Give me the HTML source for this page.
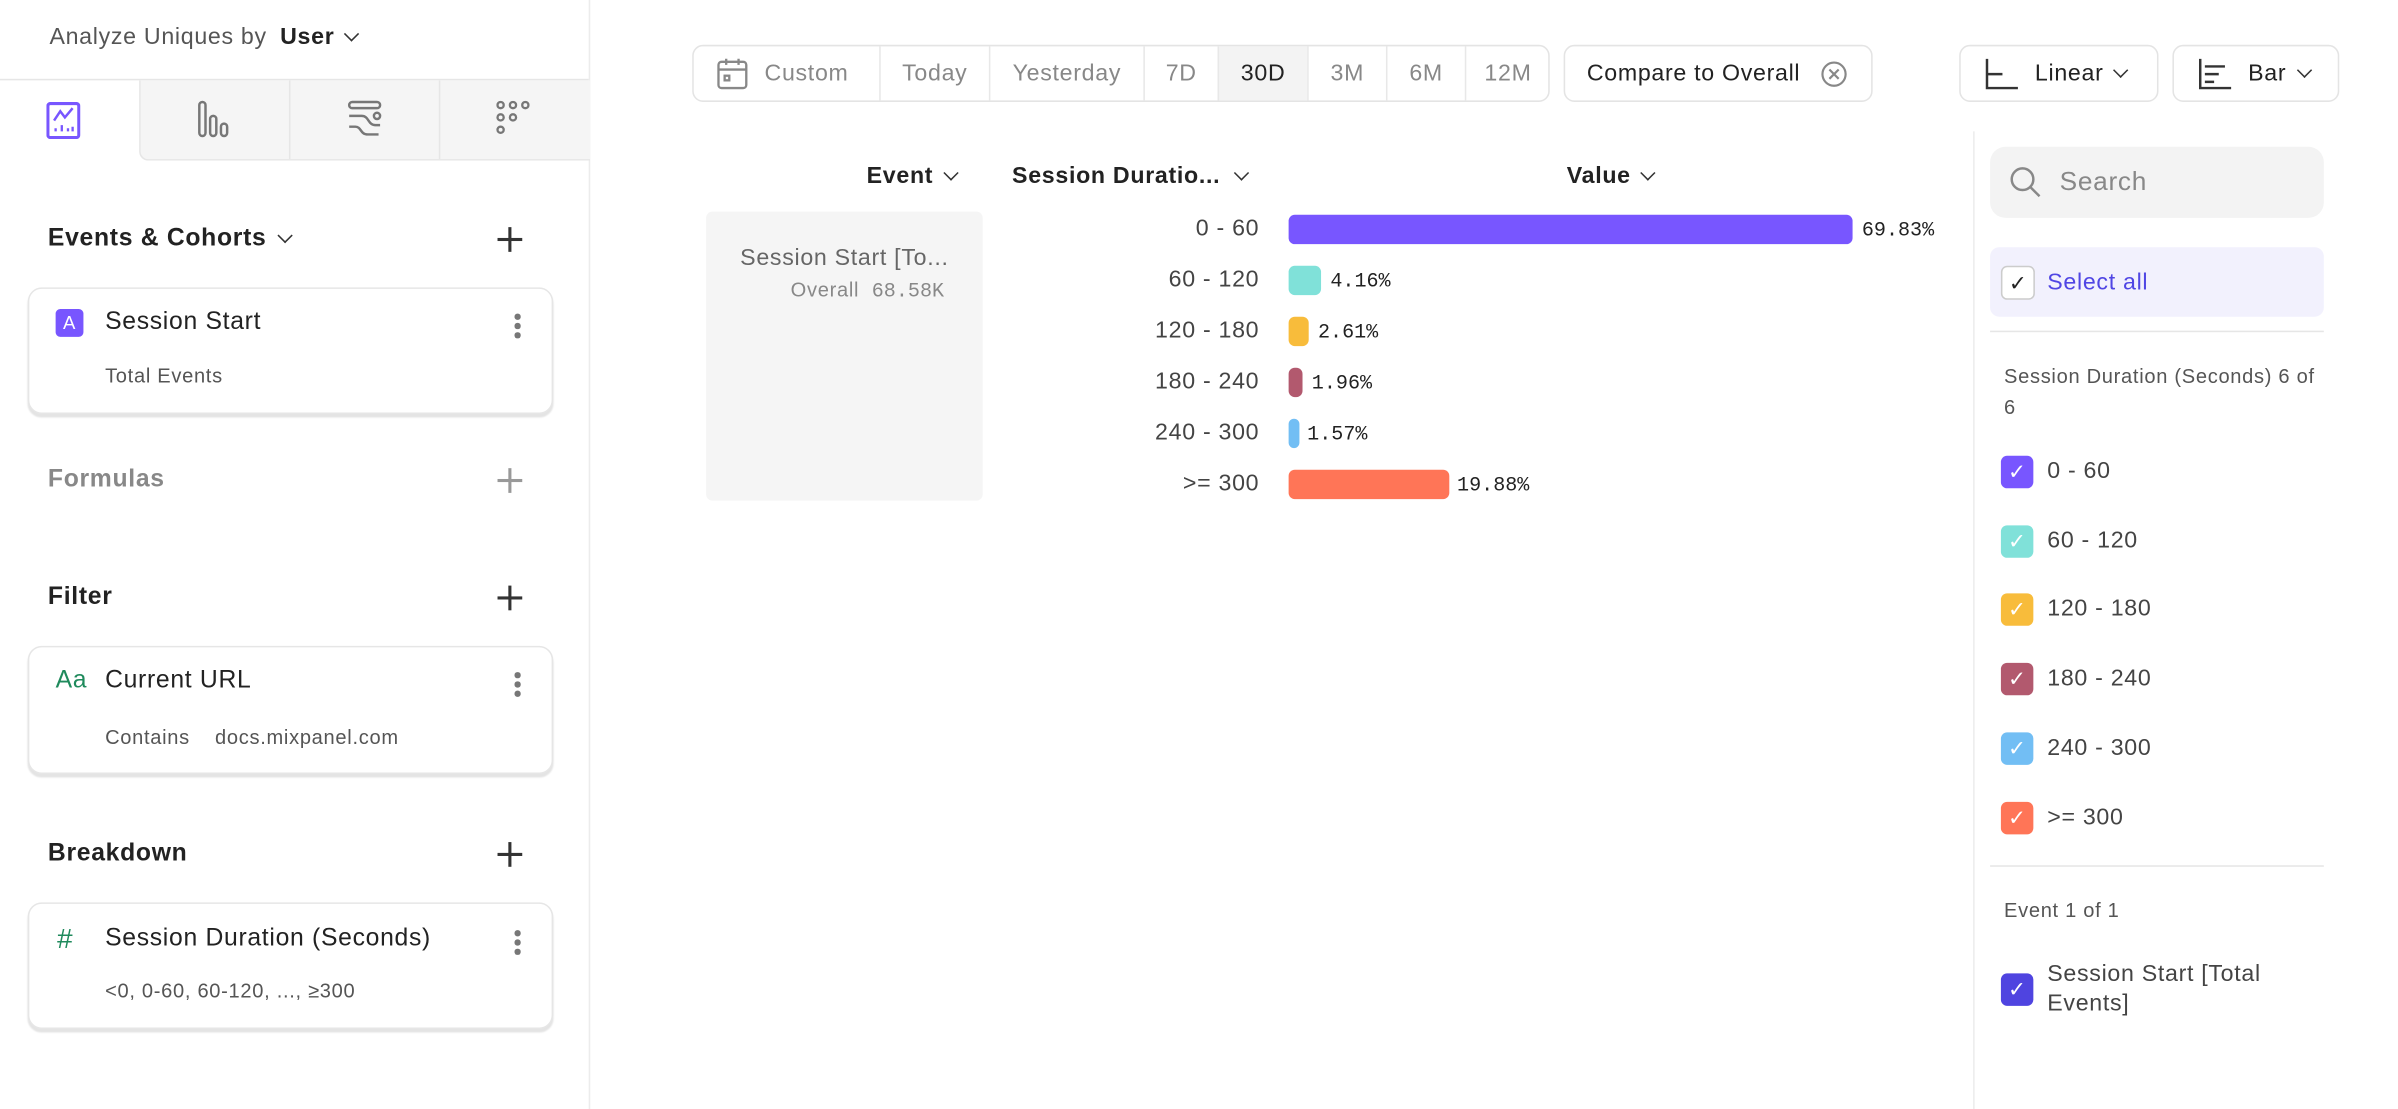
<!DOCTYPE html>
<html><head><meta charset="utf-8"><style>
html,body{margin:0;padding:0;background:#fff;overflow:hidden}
body{width:2398px;height:1108px}
#s{position:absolute;left:0;top:0;width:1552px;height:718px;transform:scale(1.5451);transform-origin:0 0;font-family:"Liberation Sans",sans-serif;color:#222;letter-spacing:0.45px}
.a{position:absolute;white-space:nowrap}
.t{transform:translateY(-50%)}
.card{position:absolute;left:18px;width:338px;border:1px solid #e6e6e6;border-radius:9px;box-shadow:0 2px 1px #e4e4e4;background:#fff}
.plus{position:absolute;left:322px;width:16px;height:16px}
.plus:before{content:"";position:absolute;left:7px;top:0;width:1.6px;height:16px;background:currentColor}
.plus:after{content:"";position:absolute;left:0;top:7px;width:16px;height:1.6px;background:currentColor}
.keb{position:absolute;left:333px;width:4px}
.keb i{display:block;width:3.5px;height:3.5px;border-radius:50%;background:#777;margin-bottom:2.5px}
.seg{position:absolute;top:29px;height:37px;border:1px solid #e4e4e4;border-radius:7px;box-sizing:border-box}
.sg{position:absolute;top:0;height:35px;line-height:35px;text-align:center;font-size:15px;color:#888;border-left:1px solid #e8e8e8;box-sizing:border-box}
.chev{display:inline-block;width:6px;height:6px;border-right:1.7px solid #333;border-bottom:1.7px solid #333;transform:rotate(45deg);margin-left:8px;position:relative;top:-3px}
.lab{position:absolute;right:737px;font-size:15px;color:#444}
.bar{position:absolute;left:834px;height:19px;border-radius:4px}
.pct{position:absolute;font-family:"Liberation Mono",monospace;font-size:13px;color:#222;letter-spacing:0}
.cb{position:absolute;left:1295px;width:21px;height:21px;border-radius:4px;color:#fff;font-size:14px;text-align:center;line-height:21px;letter-spacing:0}
.cl{position:absolute;left:1325px;font-size:15px;color:#444}
</style></head><body><div id="s">
<!-- sidebar -->
<div class="a" style="left:381px;top:0;width:1px;height:718px;background:#ececec"></div>
<div class="a t" style="left:32px;top:24px;font-size:15px;color:#555">Analyze Uniques by <span style="color:#222;font-weight:bold;margin-left:4px">User</span><span class="chev"></span></div>
<div class="a" style="left:0;top:51px;width:381px;height:1px;background:#e6e6e6"></div>
<div class="a" style="left:90px;top:52px;width:291px;height:51px;background:#f5f5f5;border-left:1px solid #e6e6e6;border-bottom:1px solid #e6e6e6;border-bottom-left-radius:6px"></div>
<div class="a" style="left:187px;top:52px;width:1px;height:51px;background:#e6e6e6"></div>
<div class="a" style="left:284px;top:52px;width:1px;height:51px;background:#e6e6e6"></div>
<svg class="a" style="left:30px;top:66px" width="22" height="24" viewBox="0 0 22 24"><rect x="1" y="1" width="20" height="22" rx="1.5" fill="none" stroke="#7856ff" stroke-width="2"/><path d="M5 12 L9 6 L12 10 L17 4" fill="none" stroke="#7856ff" stroke-width="1.6"/><path d="M6 19v-2M10 19v-4M14 19v-2M17 19v-3" stroke="#7856ff" stroke-width="1.5"/></svg>
<svg class="a" style="left:127px;top:65px" width="24" height="24" viewBox="0 0 24 24" fill="none" stroke="#777" stroke-width="1.6"><rect x="2" y="1" width="4" height="22" rx="2"/><rect x="9" y="10" width="4" height="13" rx="2"/><rect x="16" y="15" width="4" height="8" rx="2"/></svg>
<svg class="a" style="left:224px;top:65px" width="24" height="24" viewBox="0 0 24 24" fill="none" stroke="#777" stroke-width="1.6"><rect x="2" y="1" width="20" height="4" rx="2"/><path d="M2 10h8c5 0 4 6 9 6h3M2 17h4c4 0 3 5 8 5h7"/><circle cx="20" cy="10" r="2"/></svg>
<svg class="a" style="left:321px;top:65px" width="24" height="24" viewBox="0 0 24 24" fill="none" stroke="#777" stroke-width="1.5"><circle cx="3" cy="3" r="2"/><circle cx="11" cy="3" r="2"/><circle cx="19" cy="3" r="2"/><circle cx="3" cy="11" r="2"/><circle cx="11" cy="11" r="2"/><circle cx="3" cy="19" r="2"/></svg>

<div class="a t" style="left:31px;top:155px;font-size:16px;font-weight:bold">Events &amp; Cohorts<span class="chev" style="margin-left:9px"></span></div>
<div class="plus" style="top:147px;color:#333"></div>
<div class="card" style="top:186px;height:80px"></div>
<div class="a" style="left:36px;top:200px;width:18px;height:18px;border-radius:3px;background:#7856ff;color:#fff;font-size:12px;text-align:center;line-height:18px">A</div>
<div class="a t" style="left:68px;top:209px;font-size:16px">Session Start</div>
<div class="keb" style="top:203px"><i></i><i></i><i></i></div>
<div class="a t" style="left:68px;top:243px;font-size:13px;color:#555">Total Events</div>

<div class="a t" style="left:31px;top:311px;font-size:16px;font-weight:bold;color:#888">Formulas</div>
<div class="plus" style="top:303px;color:#999"></div>

<div class="a t" style="left:31px;top:387px;font-size:16px;font-weight:bold">Filter</div>
<div class="plus" style="top:379px;color:#333"></div>
<div class="card" style="top:418px;height:81px"></div>
<div class="a t" style="left:36px;top:441px;font-size:16px;color:#1f8a5c">Aa</div>
<div class="a t" style="left:68px;top:441px;font-size:16px">Current URL</div>
<div class="keb" style="top:435px"><i></i><i></i><i></i></div>
<div class="a t" style="left:68px;top:477px;font-size:13px;color:#555">Contains &nbsp;&nbsp; docs.mixpanel.com</div>

<div class="a t" style="left:31px;top:553px;font-size:16px;font-weight:bold">Breakdown</div>
<div class="plus" style="top:545px;color:#333"></div>
<div class="card" style="top:584px;height:80px"></div>
<div class="a t" style="left:37px;top:608px;font-size:18px;color:#1f8a5c">#</div>
<div class="a t" style="left:68px;top:608px;font-size:16px">Session Duration (Seconds)</div>
<div class="keb" style="top:602px"><i></i><i></i><i></i></div>
<div class="a t" style="left:68px;top:641px;font-size:13px;color:#555">&lt;0, 0-60, 60-120, ..., ≥300</div>

<!-- toolbar -->
<div class="seg" style="left:448px;width:555px">
 <div class="sg" style="left:0;width:120px;border-left:none;padding-left:26px">Custom</div>
 <svg class="a" style="left:15px;top:7px" width="20" height="21" viewBox="0 0 20 21" fill="none" stroke="#888" stroke-width="1.5"><rect x="1" y="3" width="18" height="17" rx="2"/><path d="M1 8h18M6 1v4M14 1v4"/><rect x="5" y="12" width="3" height="3"/></svg>
 <div class="sg" style="left:120px;width:71px">Today</div>
 <div class="sg" style="left:191px;width:100px">Yesterday</div>
 <div class="sg" style="left:291px;width:48px">7D</div>
 <div class="sg" style="left:339px;width:58px;background:#f3f3f3;color:#222">30D</div>
 <div class="sg" style="left:397px;width:51px">3M</div>
 <div class="sg" style="left:448px;width:51px">6M</div>
 <div class="sg" style="left:499px;width:55px">12M</div>
</div>
<div class="seg" style="left:1012px;width:200px"><div class="a" style="left:14px;top:0;line-height:35px;font-size:15px">Compare to Overall</div>
<svg class="a" style="left:165px;top:9px" width="18" height="18" viewBox="0 0 18 18" fill="none" stroke="#888" stroke-width="1.4"><circle cx="9" cy="9" r="7.5"/><path d="M6 6l6 6M12 6l-6 6"/></svg></div>
<div class="seg" style="left:1268px;width:129px">
<svg class="a" style="left:16px;top:8px" width="22" height="20" viewBox="0 0 22 20" fill="none" stroke="#333" stroke-width="1.6"><path d="M1 0v19h20M1 10h10"/></svg>
<div class="a" style="left:48px;top:0;line-height:35px;font-size:15px">Linear<span class="chev"></span></div></div>
<div class="seg" style="left:1406px;width:108px">
<svg class="a" style="left:16px;top:8px" width="22" height="20" viewBox="0 0 22 20" fill="none" stroke="#333" stroke-width="1.6"><path d="M1 0v19h20M4 5h13M4 10h9M4 15h6"/></svg>
<div class="a" style="left:48px;top:0;line-height:35px;font-size:15px">Bar<span class="chev"></span></div></div>

<!-- table headers -->
<div class="a t" style="right:933px;top:114px;font-size:15px;font-weight:bold;color:#222">Event<span class="chev"></span></div>
<div class="a t" style="left:655px;top:114px;font-size:15px;font-weight:bold;color:#222">Session Duratio...<span class="chev" style="margin-left:10px"></span></div>
<div class="a t" style="left:1014px;top:114px;font-size:15px;font-weight:bold;color:#222">Value<span class="chev"></span></div>

<div class="a" style="left:457px;top:137px;width:179px;height:187px;background:#f5f5f5;border-radius:4px"></div>
<div class="a t" style="left:457px;width:179px;text-align:center;top:167px;font-size:15px;color:#666">Session Start [To...</div>
<div class="a t" style="right:941px;top:188px;font-size:13px;color:#888">Overall &nbsp;<span style="font-family:'Liberation Mono',monospace;letter-spacing:0">68.58K</span></div>

<div class="lab t" style="top:148px">0 - 60</div>
<div class="lab t" style="top:181px">60 - 120</div>
<div class="lab t" style="top:214px">120 - 180</div>
<div class="lab t" style="top:247px">180 - 240</div>
<div class="lab t" style="top:280px">240 - 300</div>
<div class="lab t" style="top:313px">&gt;= 300</div>

<div class="bar" style="top:139px;width:365px;background:#7856ff"></div>
<div class="pct t" style="left:1205px;top:149px">69.83%</div>
<div class="bar" style="top:172px;width:21px;background:#80e1d9"></div>
<div class="pct t" style="left:861px;top:182px">4.16%</div>
<div class="bar" style="top:205px;width:13px;background:#f8bc3b"></div>
<div class="pct t" style="left:853px;top:215px">2.61%</div>
<div class="bar" style="top:238px;width:9px;background:#b2596e"></div>
<div class="pct t" style="left:849px;top:248px">1.96%</div>
<div class="bar" style="top:271px;width:7px;background:#72bef4"></div>
<div class="pct t" style="left:846px;top:281px">1.57%</div>
<div class="bar" style="top:304px;width:104px;background:#ff7557"></div>
<div class="pct t" style="left:943px;top:314px">19.88%</div>

<!-- right panel -->
<div class="a" style="left:1277px;top:85px;width:1px;height:633px;background:#ececec"></div>
<div class="a" style="left:1288px;top:95px;width:216px;height:46px;background:#f3f3f3;border-radius:10px"></div>
<svg class="a" style="left:1300px;top:107px" width="22" height="22" viewBox="0 0 22 22" fill="none" stroke="#888" stroke-width="1.6"><circle cx="9" cy="9" r="7"/><path d="M14 14l6 6"/></svg>
<div class="a t" style="left:1333px;top:118px;font-size:17px;color:#888">Search</div>
<div class="a" style="left:1288px;top:160px;width:216px;height:45px;background:#f2f1fd;border-radius:6px"></div>
<div class="cb" style="top:172px;background:#fff;border:1px solid #ccc;color:#222;width:20px;height:20px;line-height:20px">✓</div>
<div class="a t" style="left:1325px;top:183px;font-size:15px;color:#5046e4">Select all</div>
<div class="a" style="left:1288px;top:214px;width:216px;height:1px;background:#e6e6e6"></div>
<div class="a" style="left:1297px;top:234px;width:202px;font-size:13px;color:#555;line-height:20px;white-space:normal">Session Duration (Seconds) 6 of 6</div>

<div class="cb" style="top:295px;background:#7856ff">✓</div><div class="cl t" style="top:305px">0 - 60</div>
<div class="cb" style="top:340px;background:#80e1d9">✓</div><div class="cl t" style="top:350px">60 - 120</div>
<div class="cb" style="top:384px;background:#f8bc3b">✓</div><div class="cl t" style="top:394px">120 - 180</div>
<div class="cb" style="top:429px;background:#b2596e">✓</div><div class="cl t" style="top:439px">180 - 240</div>
<div class="cb" style="top:474px;background:#72bef4">✓</div><div class="cl t" style="top:484px">240 - 300</div>
<div class="cb" style="top:519px;background:#ff7557">✓</div><div class="cl t" style="top:529px">&gt;= 300</div>

<div class="a" style="left:1288px;top:560px;width:216px;height:1px;background:#e6e6e6"></div>
<div class="a t" style="left:1297px;top:589px;font-size:13px;color:#555">Event 1 of 1</div>
<div class="cb" style="top:630px;background:#4f44e0">✓</div>
<div class="a" style="left:1325px;top:621px;width:170px;font-size:15px;color:#444;line-height:19px;white-space:normal">Session Start [Total Events]</div>
</div></body></html>
